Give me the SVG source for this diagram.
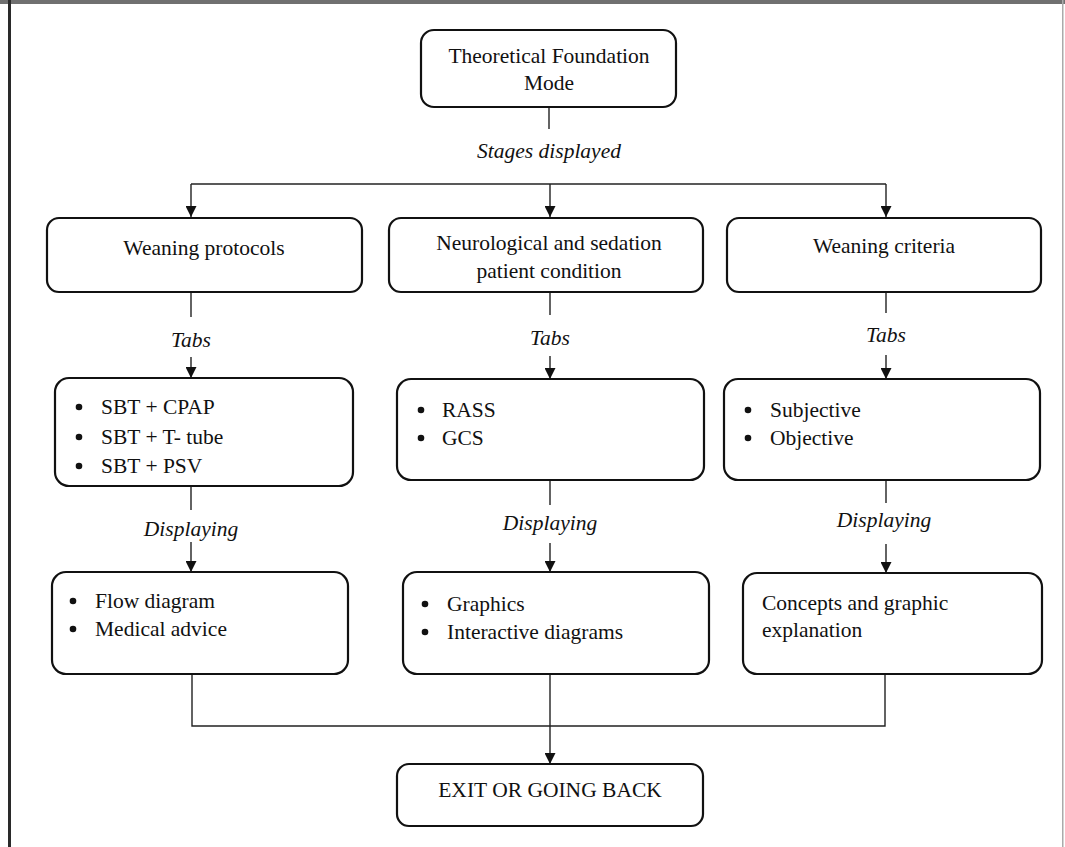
<svg xmlns="http://www.w3.org/2000/svg" width="1065" height="847" viewBox="0 0 1065 847">
<style>
.box{fill:#fff;stroke:#111;stroke-width:2.2}
.t{font-family:"Liberation Serif","Times New Roman",serif;font-size:21.5px;fill:#111}
.c{text-anchor:middle}
.i{font-style:italic}
.ln{stroke:#222;stroke-width:1.4;fill:none}
.ah{fill:#111}
</style>
<defs>
<marker id="arr" viewBox="0 0 11 11" refX="11" refY="5.5" markerWidth="11" markerHeight="11" markerUnits="userSpaceOnUse" orient="auto">
<path d="M0,0 L11,5.5 L0,11 z" class="ah"/>
</marker>
</defs>
<rect x="0" y="0" width="1065" height="847" fill="#fff"/>
<rect x="0" y="0" width="1065" height="4" fill="#707070"/>
<rect x="8" y="0" width="3" height="847" fill="#2a2a2a"/>
<rect x="1062" y="0" width="1.5" height="847" fill="#aaa"/>

<g id="connectors">
<line class="ln" x1="549" y1="107" x2="549" y2="129"/>
<text class="t c i" x="549" y="158">Stages displayed</text>
<polyline class="ln" points="191,184 886,184"/>
<line class="ln" x1="191" y1="184" x2="191" y2="217" marker-end="url(#arr)"/>
<line class="ln" x1="550" y1="184" x2="550" y2="217" marker-end="url(#arr)"/>
<line class="ln" x1="886" y1="184" x2="886" y2="217" marker-end="url(#arr)"/>

<line class="ln" x1="191" y1="292" x2="191" y2="317"/>
<text class="t c i" x="191" y="347">Tabs</text>
<line class="ln" x1="191" y1="357" x2="191" y2="378" marker-end="url(#arr)"/>
<line class="ln" x1="550" y1="292" x2="550" y2="315"/>
<text class="t c i" x="550" y="345">Tabs</text>
<line class="ln" x1="550" y1="356" x2="550" y2="379" marker-end="url(#arr)"/>
<line class="ln" x1="886" y1="292" x2="886" y2="313"/>
<text class="t c i" x="886" y="342">Tabs</text>
<line class="ln" x1="886" y1="355" x2="886" y2="379" marker-end="url(#arr)"/>

<line class="ln" x1="191" y1="486" x2="191" y2="510"/>
<text class="t c i" x="191" y="536">Displaying</text>
<line class="ln" x1="191" y1="542" x2="191" y2="572" marker-end="url(#arr)"/>
<line class="ln" x1="550" y1="480" x2="550" y2="505"/>
<text class="t c i" x="550" y="530">Displaying</text>
<line class="ln" x1="550" y1="543" x2="550" y2="572" marker-end="url(#arr)"/>
<line class="ln" x1="886" y1="480" x2="886" y2="503"/>
<text class="t c i" x="884" y="527">Displaying</text>
<line class="ln" x1="886" y1="544" x2="886" y2="573" marker-end="url(#arr)"/>

<polyline class="ln" points="192,674 192,726 885,726 885,674"/>
<line class="ln" x1="550" y1="674" x2="550" y2="764" marker-end="url(#arr)"/>
</g>

<g id="node-top">
<rect class="box" x="421" y="30" width="255" height="77" rx="13"/>
<text class="t c" x="549" y="63">Theoretical Foundation</text>
<text class="t c" x="549" y="90">Mode</text>
</g>

<g id="node-weaning-protocols">
<rect class="box" x="47" y="218" width="315" height="74" rx="12"/>
<text class="t c" x="204" y="255">Weaning protocols</text>
</g>
<g id="node-neuro">
<rect class="box" x="389" y="218" width="314" height="74" rx="12"/>
<text class="t c" x="549" y="250">Neurological and sedation</text>
<text class="t c" x="549" y="278">patient condition</text>
</g>
<g id="node-weaning-criteria">
<rect class="box" x="727" y="218" width="314" height="74" rx="12"/>
<text class="t c" x="884" y="253">Weaning criteria</text>
</g>

<g id="node-sbt">
<rect class="box" x="55" y="378" width="298" height="108" rx="14"/>
<circle cx="79" cy="407" r="3.3" fill="#111"/>
<circle cx="79" cy="437" r="3.3" fill="#111"/>
<circle cx="79" cy="466" r="3.3" fill="#111"/>
<text class="t" x="101" y="414">SBT + CPAP</text>
<text class="t" x="101" y="444">SBT + T- tube</text>
<text class="t" x="101" y="473">SBT + PSV</text>
</g>
<g id="node-rass">
<rect class="box" x="397" y="379" width="307" height="101" rx="14"/>
<circle cx="421" cy="410" r="3.3" fill="#111"/>
<circle cx="421" cy="438" r="3.3" fill="#111"/>
<text class="t" x="442" y="417">RASS</text>
<text class="t" x="442" y="445">GCS</text>
</g>
<g id="node-subjective">
<rect class="box" x="724" y="379" width="316" height="101" rx="14"/>
<circle cx="748" cy="410" r="3.3" fill="#111"/>
<circle cx="748" cy="438" r="3.3" fill="#111"/>
<text class="t" x="770" y="417">Subjective</text>
<text class="t" x="770" y="445">Objective</text>
</g>

<g id="node-flow">
<rect class="box" x="52" y="572" width="296" height="102" rx="14"/>
<circle cx="73" cy="601" r="3.3" fill="#111"/>
<circle cx="73" cy="629" r="3.3" fill="#111"/>
<text class="t" x="95" y="608">Flow diagram</text>
<text class="t" x="95" y="636">Medical advice</text>
</g>
<g id="node-graphics">
<rect class="box" x="403" y="572" width="306" height="102" rx="14"/>
<circle cx="425" cy="604" r="3.3" fill="#111"/>
<circle cx="425" cy="632" r="3.3" fill="#111"/>
<text class="t" x="447" y="611">Graphics</text>
<text class="t" x="447" y="639">Interactive diagrams</text>
</g>
<g id="node-concepts">
<rect class="box" x="743" y="573" width="299" height="101" rx="14"/>
<text class="t" x="762" y="610">Concepts and graphic</text>
<text class="t" x="762" y="637">explanation</text>
</g>

<g id="node-exit">
<rect class="box" x="397" y="764" width="306" height="62" rx="12"/>
<text class="t c" x="550" y="797">EXIT OR GOING BACK</text>
</g>
</svg>
